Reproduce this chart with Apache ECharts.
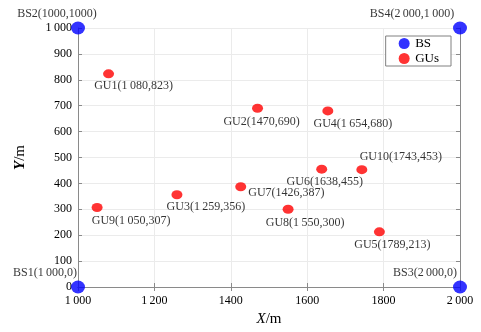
<!DOCTYPE html>
<html><head><meta charset="utf-8">
<script src="https://cdn.jsdelivr.net/npm/echarts@6/dist/echarts.min.js"></script>
<style>html,body{margin:0;padding:0;background:#fff}#c{width:481px;height:332px}</style>
</head><body><div id="c"></div>
<script>
const bsNames = ['BS1(1\u2009000,0)', 'BS2(1000,1000)', 'BS3(2\u2009000,0)', 'BS4(2\u2009000,1\u2009000)'];
const bsX = [1000, 1000, 2000, 2000];
const bsY = [0, 1000, 0, 1000];
const guNames = ['GU1(1\u2009080,823)', 'GU2(1470,690)', 'GU3(1\u2009259,356)', 'GU4(1\u2009654,680)', 'GU5(1789,213)',
  'GU6(1638,455)', 'GU7(1426,387)', 'GU8(1\u2009550,300)', 'GU9(1\u2009050,307)', 'GU10(1743,453)'];
const guX = [1080, 1470, 1259, 1654, 1789, 1638, 1426, 1550, 1050, 1743];
const guY = [823, 690, 356, 680, 213, 455, 387, 300, 307, 453];
const xTickLabels = ['1\u2009000', '1\u2009200', '1400', '1600', '1800', '2\u2009000'];
const yTickLabels = ['0', '100', '200', '300', '400', '500', '600', '700', '800', '900', '1\u2009000'];

// label placement (style only)
const bsLabelPos = [['top', -33, 0], ['top', -21, 0], ['top', -35, 0], ['top', -48, 0]];
const guLabelPos = [['bottom', 25, 0], ['bottom', 4, 1], ['bottom', 29, 0], ['bottom', 25, 0], ['bottom', 13, 1],
  ['bottom', 3, 0], ['right', 0, 6], ['bottom', 17, 1], ['bottom', 34, 1], ['top', 39, 0]];

const FONT = 'Liberation Serif';
const mk = (xs, ys, names, pos) => xs.map((x, i) => ({
  value: [x, ys[i]],
  label: { show: true, formatter: names[i], position: pos[i][0], offset: [pos[i][1], pos[i][2]], distance: 2 }
}));

const chart = echarts.init(document.getElementById('c'));
const axisCommon = {
  type: 'value',
  axisLine: { show: true, lineStyle: { color: '#8a8a8a', width: 1 } },
  axisTick: { show: true, inside: true, length: 4, lineStyle: { color: '#8a8a8a' } },
  splitLine: { show: false },
};
chart.setOption({
  animation: false,
  textStyle: { fontFamily: FONT },
  grid: { left: 78, right: 21, top: 28, bottom: 44 },
  legend: {
    orient: 'vertical', right: 30, top: 36,
    itemWidth: 12, itemHeight: 11, itemGap: 2,
    padding: [1, 12, 1, 13],
    borderColor: '#808080', borderWidth: 1, backgroundColor: '#fff',
    textStyle: { fontFamily: FONT, fontSize: 13, color: '#000' },
    data: [{ name: 'BS', icon: 'circle' }, { name: 'GUs', icon: 'circle' }]
  },
  xAxis: [
    Object.assign({}, axisCommon, {
      min: 1000, max: 2000, interval: 200,
      name: '{i|X}/m', nameLocation: 'middle', nameGap: 25,
      nameTextStyle: { fontFamily: FONT, fontSize: 15, color: '#000', rich: { i: { fontStyle: 'italic', fontFamily: FONT, fontSize: 15 } } },
      axisLabel: { color: '#000', fontSize: 12, fontFamily: FONT, margin: 8, formatter: v => xTickLabels[Math.round((v - 1000) / 200)] },
      splitLine: { show: true, lineStyle: { color: '#ebebeb' } }
    }),
    Object.assign({}, axisCommon, { position: 'top', min: 1000, max: 2000, interval: 200, axisLabel: { show: false } })
  ],
  yAxis: [
    Object.assign({}, axisCommon, {
      min: 0, max: 1000, interval: 100,
      name: '{i|Y}/m', nameLocation: 'middle', nameGap: 50,
      nameTextStyle: { fontFamily: FONT, fontSize: 15, color: '#000', rich: { i: { fontStyle: 'italic', fontWeight: 'bold', fontFamily: FONT, fontSize: 15 } } },
      axisLabel: { color: '#000', fontSize: 12, fontFamily: FONT, margin: 6, formatter: v => yTickLabels[Math.round(v / 100)] },
      splitLine: { show: true, lineStyle: { color: '#ebebeb' } }
    }),
    Object.assign({}, axisCommon, { position: 'right', min: 0, max: 1000, interval: 100, axisLabel: { show: false } })
  ],
  series: [
    {
      name: 'BS', type: 'scatter', symbol: 'circle', symbolSize: [14, 13], clip: false,
      itemStyle: { color: '#0000ff' }, z: 5,
      label: { color: '#000', fontSize: 12, fontFamily: FONT },
      data: mk(bsX, bsY, bsNames, bsLabelPos)
    },
    {
      name: 'GUs', type: 'scatter', symbol: 'circle', symbolSize: [11, 9], clip: false,
      itemStyle: { color: '#ff0000' },
      label: { color: '#000', fontSize: 12, fontFamily: FONT },
      data: mk(guX, guY, guNames, guLabelPos)
    }
  ]
});
</script></body></html>
